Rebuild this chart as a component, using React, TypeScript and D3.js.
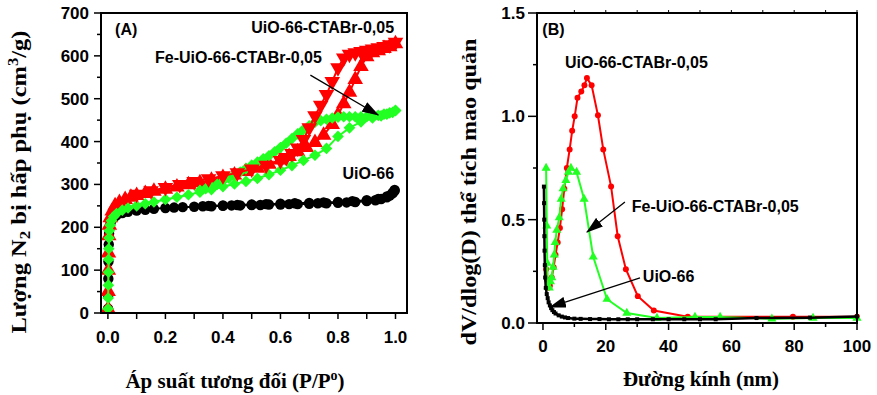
import * as d3 from 'd3';

type Pt = [number, number];

// Panel A: N2 isotherms (P/P0, cm3/g)
const uioAds: Pt[] = [
  [0.0005, 10], [0.001, 40], [0.0015, 80], [0.002, 120], [0.003, 160], [0.004, 185], [0.006, 200],
  [0.01, 212], [0.02, 222], [0.03, 228], [0.05, 233], [0.07, 236], [0.1, 239], [0.13, 241],
  [0.16, 243], [0.2, 245], [0.23, 246], [0.26, 247], [0.3, 248], [0.33, 249], [0.36, 249],
  [0.4, 250], [0.43, 251], [0.46, 251], [0.5, 252], [0.53, 252], [0.56, 253], [0.6, 253],
  [0.63, 254], [0.66, 254], [0.7, 255], [0.73, 256], [0.76, 256], [0.8, 257], [0.83, 258],
  [0.86, 259], [0.9, 261], [0.93, 263], [0.95, 266], [0.97, 270], [0.98, 274], [0.99, 279], [0.997, 285],
];
const uioDes: Pt[] = [
  [0.997, 287], [0.99, 281], [0.97, 272], [0.94, 266], [0.9, 263], [0.85, 261], [0.8, 259],
  [0.75, 258], [0.7, 257], [0.65, 256], [0.6, 255], [0.55, 254], [0.5, 253], [0.45, 252],
  [0.4, 251], [0.35, 250],
];
const ctabAds: Pt[] = [
  [0.0005, 10], [0.001, 50], [0.0015, 100], [0.002, 140], [0.003, 180], [0.005, 205], [0.008, 222],
  [0.015, 238], [0.025, 250], [0.04, 258], [0.06, 265], [0.08, 270], [0.1, 274], [0.13, 279],
  [0.16, 284], [0.2, 289], [0.24, 294], [0.28, 299], [0.32, 304], [0.36, 310], [0.4, 316],
  [0.44, 322], [0.48, 330], [0.52, 338], [0.56, 347], [0.6, 357], [0.63, 365], [0.66, 376],
  [0.69, 386], [0.72, 398], [0.75, 415], [0.78, 440], [0.8, 462], [0.82, 488], [0.84, 515],
  [0.86, 545], [0.88, 575], [0.9, 598], [0.92, 607], [0.94, 612], [0.96, 617], [0.98, 621], [1.0, 628],
];
const ctabDes: Pt[] = [
  [1.0, 632], [0.98, 626], [0.96, 622], [0.94, 619], [0.92, 616], [0.9, 613], [0.88, 610],
  [0.86, 607], [0.84, 604], [0.82, 595], [0.8, 572], [0.78, 540], [0.76, 510], [0.74, 485],
  [0.72, 460], [0.7, 432], [0.68, 405], [0.66, 385], [0.64, 372], [0.62, 363], [0.6, 356],
  [0.55, 345], [0.5, 336], [0.45, 327], [0.4, 320], [0.35, 313], [0.3, 307], [0.25, 300],
  [0.2, 293], [0.15, 285], [0.1, 277],
];
const feAds: Pt[] = [
  [0.0005, 10], [0.001, 35], [0.0015, 65], [0.002, 95], [0.0025, 125], [0.003, 150], [0.004, 175],
  [0.005, 192], [0.008, 205], [0.012, 215], [0.02, 225], [0.03, 232], [0.05, 240], [0.07, 245],
  [0.1, 250], [0.13, 255], [0.16, 259], [0.2, 265], [0.24, 270], [0.28, 276], [0.32, 282],
  [0.36, 288], [0.4, 295], [0.44, 301], [0.48, 307], [0.52, 314], [0.56, 323], [0.6, 333],
  [0.64, 344], [0.68, 356], [0.72, 368], [0.76, 384], [0.8, 412], [0.84, 432], [0.88, 446],
  [0.92, 455], [0.95, 460], [0.97, 464], [0.99, 468], [1.0, 472],
];
const feDes: Pt[] = [
  [1.0, 473], [0.98, 467], [0.96, 464], [0.94, 461], [0.92, 459], [0.9, 458], [0.88, 458],
  [0.86, 458], [0.84, 458], [0.82, 458], [0.8, 457], [0.78, 455], [0.76, 452], [0.74, 449],
  [0.72, 445], [0.7, 437], [0.68, 428], [0.66, 418], [0.64, 407], [0.62, 396], [0.6, 386],
  [0.58, 376], [0.56, 367], [0.54, 360], [0.52, 352], [0.5, 345], [0.48, 337], [0.46, 329],
  [0.44, 322], [0.42, 315], [0.4, 308], [0.38, 300], [0.36, 294], [0.34, 290], [0.32, 286],
];

// Panel B: pore size distribution (nm, dV/dlogD)
const psdCtab: Pt[] = [
  [1.0, 0.26], [1.3, 0.21], [1.7, 0.17], [2.2, 0.18], [2.8, 0.22], [3.4, 0.27], [4.0, 0.33],
  [4.7, 0.39], [5.4, 0.46], [6.1, 0.55], [6.8, 0.65], [7.6, 0.75], [8.5, 0.84], [9.3, 0.93],
  [10.1, 1.0], [11.0, 1.09], [12.2, 1.12], [13.2, 1.15], [14.0, 1.185], [15.5, 1.15],
  [17.5, 1.005], [19.2, 0.84], [21.7, 0.66], [23.8, 0.42], [26.4, 0.26], [30.2, 0.13],
  [35.3, 0.06], [46.1, 0.03], [79.6, 0.03], [100, 0.03],
];
const psdFe: Pt[] = [
  [1.0, 0.75], [1.2, 0.47], [1.35, 0.29], [1.6, 0.18], [2.0, 0.17], [2.4, 0.2], [2.8, 0.22],
  [3.2, 0.27], [3.6, 0.33], [3.9, 0.39], [4.4, 0.45], [5.2, 0.51], [5.8, 0.6], [6.4, 0.65],
  [7.3, 0.69], [8.1, 0.73], [8.9, 0.75], [10.7, 0.73], [13.1, 0.6], [16.0, 0.32], [20.4, 0.115],
  [26.7, 0.048], [36.3, 0.024], [48.4, 0.029], [56.4, 0.029], [72.9, 0.02], [86, 0.024], [100, 0.024],
];
const psdUio: Pt[] = [
  [0.3, 0.66], [0.35, 0.58], [0.4, 0.5], [0.45, 0.42], [0.5, 0.35], [0.6, 0.28], [0.7, 0.22],
  [0.9, 0.17], [1.2, 0.14], [1.5, 0.12], [1.8, 0.1], [2.2, 0.085], [2.6, 0.072], [3.0, 0.062],
  [3.5, 0.053], [4.0, 0.046], [5, 0.037], [6, 0.031], [7, 0.027], [8, 0.024], [10, 0.021],
  [12, 0.02], [15, 0.019], [18, 0.019], [21, 0.018], [24, 0.018], [27, 0.018], [30, 0.018],
  [35, 0.018], [40, 0.018], [45, 0.018], [50, 0.018], [55, 0.018], [68, 0.024], [85, 0.026], [100, 0.032],
];

const ticksA_x = [0, 0.2, 0.4, 0.6, 0.8, 1.0];
const ticksA_y = [0, 100, 200, 300, 400, 500, 600, 700];
const ticksB_x = [0, 20, 40, 60, 80, 100];
const ticksB_y = [0, 0.5, 1.0, 1.5];

const RED = '#ff0000';
const GREEN = '#22ff22';
const SANS = '"Liberation Sans", Arial, sans-serif';
const SERIF = '"Liberation Serif", "Times New Roman", serif';

const xA = d3.scaleLinear().domain([-0.024, 1.04]).range([101, 407]);
const yA = d3.scaleLinear().domain([0, 700]).range([313, 13]);
const xB = d3.scaleLinear().domain([-1.9, 100]).range([537, 857]);
const yB = d3.scaleLinear().domain([0, 1.5]).range([323, 13]);

type Scale = d3.ScaleLinear<number, number>;

function Series({ data, x, y, color, shape, size, width, rotate = 0 }: {
  data: Pt[]; x: Scale; y: Scale; color: string; shape: d3.SymbolType; size: number; width: number; rotate?: number;
}) {
  const line = d3.line<Pt>().x((d) => x(d[0])).y((d) => y(d[1]));
  const sym = d3.symbol().type(shape).size(size)()!;
  return (
    <g>
      <path d={line(data)!} fill="none" stroke={color} strokeWidth={width} />
      {data.map((d, i) => (
        <path key={i} d={sym} fill={color} transform={`translate(${x(d[0])},${y(d[1])}) rotate(${rotate})`} />
      ))}
    </g>
  );
}

function Frame({ x, y }: { x: Scale; y: Scale }) {
  const [x0, x1] = x.range();
  const [y0, y1] = y.range();
  return <rect x={x0} y={y1} width={x1 - x0} height={y0 - y1} fill="none" stroke="#000" strokeWidth={2} />;
}

function Arrow({ from, to, x, y }: { from: Pt; to: Pt; x: Scale; y: Scale }) {
  return (
    <line x1={x(from[0])} y1={y(from[1])} x2={x(to[0])} y2={y(to[1])} stroke="#000" strokeWidth={1.3} markerEnd="url(#ah)" />
  );
}

export default function App() {
  const yA0 = yA.range()[0];
  const yB0 = yB.range()[0];
  const xAl = xA.range()[0];
  const xBl = xB.range()[0];
  const minorAx = d3.range(0, 1.001, 0.1);
  const minorAy = d3.range(50, 700, 100);
  const minorBx = d3.range(10, 100, 20);
  const minorBy = [0.25, 0.75, 1.25];
  const topBx = d3.range(10, 100.1, 10);

  return (
    <svg width={877} height={395} style={{ position: 'absolute', left: 0, top: 0, background: '#fff' }}>
      <defs>
        <marker id="ah" markerUnits="userSpaceOnUse" markerWidth={17} markerHeight={11} refX={16} refY={5.5} orient="auto">
          <path d="M0,0 L17,5.5 L0,11 Z" fill="#000" />
        </marker>
      </defs>

      {/* Panel A */}
      <g fontFamily={SANS} fontWeight="bold" fontSize={17}>
        {minorAx.map((t, i) => (
          <line key={i} x1={xA(t)} x2={xA(t)} y1={yA0} y2={yA0 + 6} stroke="#000" strokeWidth={1.5} />
        ))}
        {ticksA_x.map((t) => (
          <text key={t} x={xA(t)} y={343} textAnchor="middle">{t.toFixed(1)}</text>
        ))}
        {ticksA_y.map((t) => (
          <g key={t}>
            <line x1={xAl - 7} x2={xAl} y1={yA(t)} y2={yA(t)} stroke="#000" strokeWidth={1.5} />
            <text x={xAl - 12} y={yA(t) + 6} textAnchor="end">{t}</text>
          </g>
        ))}
        {minorAy.map((t) => (
          <line key={t} x1={xAl - 4} x2={xAl} y1={yA(t)} y2={yA(t)} stroke="#000" strokeWidth={1.5} />
        ))}
      </g>
      <Series data={uioDes} x={xA} y={yA} color="#000" shape={d3.symbolCircle} size={85} width={2} />
      <Series data={uioAds} x={xA} y={yA} color="#000" shape={d3.symbolCircle} size={85} width={2} />
      <Series data={ctabAds} x={xA} y={yA} color={RED} shape={d3.symbolTriangle} size={105} width={2} />
      <Series data={feDes} x={xA} y={yA} color={GREEN} shape={d3.symbolSquare} size={68} width={2} rotate={45} />
      <Series data={feAds} x={xA} y={yA} color={GREEN} shape={d3.symbolSquare} size={68} width={2} rotate={45} />
      <Series data={ctabDes} x={xA} y={yA} color={RED} shape={d3.symbolTriangle} size={105} width={2} rotate={180} />
      <Frame x={xA} y={yA} />
      <g fontFamily={SANS} fontWeight="bold" fontSize={16}>
        <text x={xA(0.025)} y={yA(648)}>(A)</text>
        <text x={xA(0.995)} y={yA(653)} textAnchor="end">UiO-66-CTABr-0,05</text>
        <text x={xA(0.164)} y={yA(584)}>Fe-UiO-66-CTABr-0,05</text>
        <text x={xA(0.995)} y={yA(312)} textAnchor="end">UiO-66</text>
      </g>
      <Arrow from={[0.704, 555]} to={[0.94, 462]} x={xA} y={yA} />
      <g fontFamily={SERIF} fontWeight="bold" fontSize={21}>
        <text x={235} y={388} textAnchor="middle">
          Áp suất tương đối (P/P<tspan dy={-8} fontSize={14}>o</tspan><tspan dy={8}>)</tspan>
        </text>
        <text transform="translate(26,182) rotate(-90)" textAnchor="middle" fontSize={22} textLength={303} lengthAdjust="spacingAndGlyphs">
          Lượng N<tspan dy={4} fontSize={15}>2</tspan><tspan dy={-4}> bị hấp phụ (cm</tspan>
          <tspan dy={-8} fontSize={15}>3</tspan><tspan dy={8}>/g)</tspan>
        </text>
      </g>

      {/* Panel B */}
      <g fontFamily={SANS} fontWeight="bold" fontSize={17}>
        {ticksB_x.map((t) => (
          <g key={t}>
            <line x1={xB(t)} x2={xB(t)} y1={yB0} y2={yB0 + 7} stroke="#000" strokeWidth={1.5} />
            <text x={xB(t)} y={352} textAnchor="middle">{t}</text>
          </g>
        ))}
        {minorBx.map((t) => (
          <line key={t} x1={xB(t)} x2={xB(t)} y1={yB0} y2={yB0 + 4} stroke="#000" strokeWidth={1.5} />
        ))}
        {topBx.map((t) => (
          <line key={t} x1={xB(t)} x2={xB(t)} y1={yB.range()[1]} y2={yB.range()[1] - 3} stroke="#000" strokeWidth={1} />
        ))}
        {ticksB_y.map((t) => (
          <g key={t}>
            <line x1={xBl - 9} x2={xBl} y1={yB(t)} y2={yB(t)} stroke="#000" strokeWidth={1.5} />
            <text x={xBl - 12} y={yB(t) + 6} textAnchor="end">{t.toFixed(1)}</text>
          </g>
        ))}
        {minorBy.map((t) => (
          <line key={t} x1={xBl - 4} x2={xBl} y1={yB(t)} y2={yB(t)} stroke="#000" strokeWidth={1.5} />
        ))}
      </g>
      <Series data={psdCtab} x={xB} y={yB} color={RED} shape={d3.symbolCircle} size={28} width={2} />
      <Series data={psdFe} x={xB} y={yB} color={GREEN} shape={d3.symbolTriangle} size={36} width={2} />
      <Series data={psdUio} x={xB} y={yB} color="#000" shape={d3.symbolSquare} size={16} width={2.5} />
      <Frame x={xB} y={yB} />
      <g fontFamily={SANS} fontWeight="bold" fontSize={16}>
        <text x={xB(-0.2)} y={yB(1.395)}>(B)</text>
        <text x={xB(7.0)} y={yB(1.232)}>UiO-66-CTABr-0,05</text>
        <text x={xB(28.3)} y={yB(0.537)}>Fe-UiO-66-CTABr-0,05</text>
        <text x={xB(31.8)} y={yB(0.198)}>UiO-66</text>
      </g>
      <Arrow from={[26.1, 0.585]} to={[14.0, 0.44]} x={xB} y={yB} />
      <Arrow from={[30.9, 0.218]} to={[2.2, 0.077]} x={xB} y={yB} />
      <g fontFamily={SERIF} fontWeight="bold" fontSize={21}>
        <text x={701} y={386} textAnchor="middle">Đường kính (nm)</text>
        <text transform="translate(476,192) rotate(-90)" textAnchor="middle" fontSize={22} textLength={307} lengthAdjust="spacingAndGlyphs">
          dV/dlog(D) thể tích mao quản
        </text>
      </g>
    </svg>
  );
}
